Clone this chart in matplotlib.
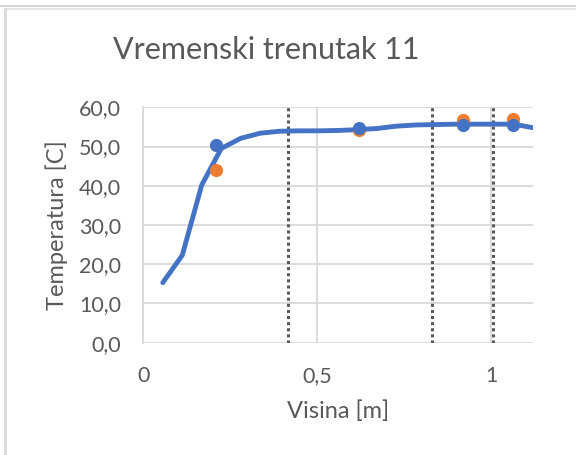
import matplotlib.pyplot as plt
from matplotlib.ticker import FuncFormatter, MultipleLocator
from matplotlib.lines import Line2D

# simulirani profil temperature po visini
visina = [0.056, 0.112, 0.168, 0.224, 0.280, 0.336, 0.392, 0.448, 0.504, 0.560,
          0.616, 0.672, 0.728, 0.784, 0.840, 0.896, 0.952, 1.008, 1.064, 1.120]
temp_sim = [15.3, 22.3, 40.2, 49.5, 52.1, 53.4, 53.9, 54.0, 54.0, 54.1,
            54.3, 54.6, 55.2, 55.5, 55.6, 55.7, 55.7, 55.7, 55.7, 54.8]

# mjerne tocke
visina_mj = [0.209, 0.621, 0.918, 1.063]
temp_mj1 = [44.0, 54.3, 56.8, 56.9]
temp_mj2 = [50.4, 54.6, 55.6, 55.6]

# granice slojeva
granice = [0.415, 0.829, 1.006]

plt.rcParams['font.family'] = ['Lato', 'DejaVu Sans']
siva = '#595959'

fig = plt.figure(figsize=(5.76, 4.55), dpi=100)
ax = fig.add_axes([143.3/576, 1-342.7/455, (533-143.3)/576, (342.7-107.3)/455])

for g in granice:
    ax.axvline(g, color=siva, lw=2.2, dashes=(1, 1), zorder=2)

ax.plot(visina, temp_sim, color='#4472C4', lw=3.5, solid_joinstyle='round',
        solid_capstyle='round', zorder=3)
ax.plot(visina_mj, temp_mj1, 'o', color='#ED7D31', ms=9.5, mec='none', zorder=4)
ax.plot(visina_mj, temp_mj2, 'o', color='#4472C4', ms=9.5, mec='none', zorder=5)

ax.set_xlim(0, 1.12)
ax.set_ylim(0, 60)
ax.xaxis.set_major_locator(MultipleLocator(0.5))
ax.yaxis.set_major_locator(MultipleLocator(10))
ax.xaxis.set_major_formatter(FuncFormatter(lambda v, p: f'{v:g}'.replace('.', ',')))
ax.yaxis.set_major_formatter(FuncFormatter(lambda v, p: f'{v:.1f}'.replace('.', ',')))
ax.grid(True, color='#D9D9D9', lw=1.3, zorder=1)
ax.set_axisbelow(True)
for s in ['top', 'right', 'bottom']:
    ax.spines[s].set_visible(False)
ax.spines['left'].set_color('#D9D9D9')
ax.spines['left'].set_linewidth(1.3)
ax.tick_params(length=0, labelsize=15.5, labelcolor=siva)
ax.tick_params(axis='y', pad=16)
ax.tick_params(axis='x', pad=17)

ax.set_xlabel('Visina [m]', fontsize=17, color=siva, labelpad=10)
ax.set_ylabel('Temperatura [C]', fontsize=17, color=siva, labelpad=8)
fig.text(266/576, 1-50/455, 'Vremenski trenutak 11', fontsize=22, color=siva,
         ha='center', va='center')

# okvir grafikona
fig.add_artist(Line2D([0, 1], [1-5.5/455]*2, color='#D0D0D0', lw=1.2))
fig.add_artist(Line2D([5/576, 1], [1-8.5/455]*2, color='#E0E0E0', lw=1.2))
fig.add_artist(Line2D([5/576]*2, [0, 1-8.5/455], color='#DADADA', lw=2))

fig.savefig('out.png', dpi=100)
